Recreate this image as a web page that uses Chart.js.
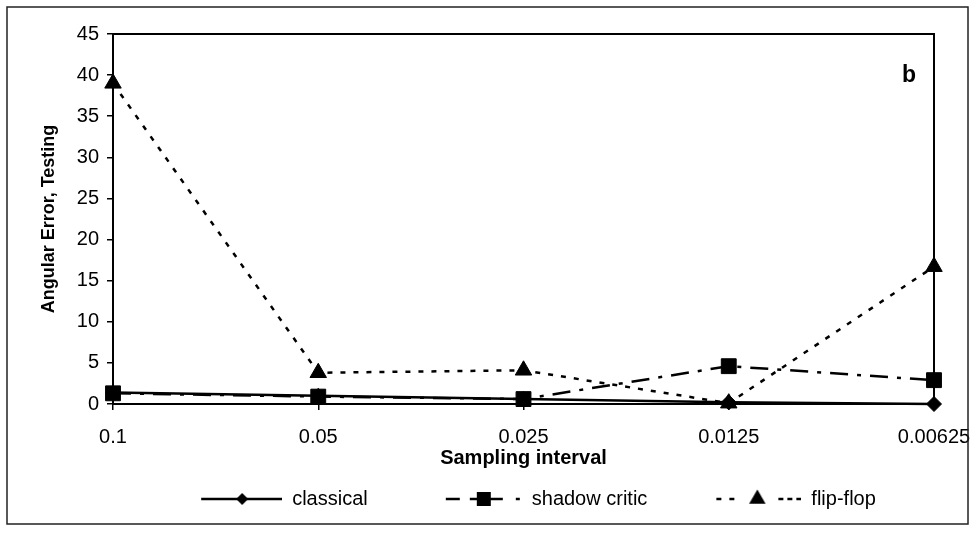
<!DOCTYPE html>
<html>
<head>
<meta charset="utf-8">
<script src="https://cdn.jsdelivr.net/npm/chart.js@4/dist/chart.umd.min.js"></script>
<style>
  html, body { margin: 0; padding: 0; background: #fff; }
  canvas { display: block; }
</style>
</head>
<body>
<canvas id="chart" width="976" height="533"></canvas>
<script>
// values
const intervals = ['0.1', '0.05', '0.025', '0.0125', '0.00625']
const classical = [1.4, 1.0, 0.6, 0.2, 0.0]
const shadowCritic = [1.3, 0.9, 0.6, 4.6, 2.9]
const flipFlop = [39.0, 3.8, 4.1, 0.1, 16.7]
const yTicks = { min: 0, max: 45, step: 5 }

Chart.defaults.font.family = '"Liberation Sans", Arial, sans-serif'
Chart.defaults.color = '#000'

const SYM_W = 144

// legend swatches: line + marker, right aligned in the box
function makeSymbol(kind) {
  const c = document.createElement('canvas')
  c.width = SYM_W
  c.height = 20
  const g = c.getContext('2d')
  g.strokeStyle = '#000'
  g.fillStyle = '#000'
  g.lineWidth = 2.5
  const y = 10
  const seg = (a, b) => { g.beginPath(); g.moveTo(a, y); g.lineTo(b, y); g.stroke() }
  if (kind === 'classical') {
    const s = SYM_W - 81
    seg(s, SYM_W)
    const cx = s + 41
    g.beginPath()
    g.moveTo(cx, y - 6); g.lineTo(cx + 6, y); g.lineTo(cx, y + 6); g.lineTo(cx - 6, y)
    g.closePath(); g.fill()
  } else if (kind === 'shadow') {
    const s = SYM_W - 2 - 74
    seg(s, s + 14)
    seg(s + 24, s + 57)
    g.fillRect(s + 31, y - 7, 14, 14)
    seg(s + 70, s + 74)
  } else {
    const s = SYM_W - 85
    ;[[0, 5], [13, 18], [62, 67], [71, 76], [80, 85]].forEach(d => seg(s + d[0], s + d[1]))
    const cx = s + 41, r = 9.5
    g.beginPath()
    g.moveTo(cx, y - r)
    g.lineTo(cx + r * 0.866, y + r * 0.5)
    g.lineTo(cx - r * 0.866, y + r * 0.5)
    g.closePath(); g.fill()
  }
  return c
}
const symbols = [makeSymbol('classical'), makeSymbol('shadow'), makeSymbol('flip')]

// outer frame, plot box and panel letter
const framePlugin = {
  id: 'frame',
  beforeDatasetsDraw(chart) {
    const { ctx, chartArea: a } = chart
    ctx.save()
    ctx.strokeStyle = '#000'
    ctx.lineWidth = 2
    ctx.strokeRect(a.left, a.top, a.right - a.left, a.bottom - a.top)
    ctx.lineWidth = 1.5
    ctx.strokeStyle = '#222'
    ctx.strokeRect(7, 7, 961, 517)
    ctx.fillStyle = '#000'
    ctx.font = 'bold 23px "Liberation Sans", Arial, sans-serif'
    ctx.textBaseline = 'alphabetic'
    ctx.fillText('b', 902, 82)
    ctx.restore()
  }
}

// nudge the legend row to where the reference has it
const legendShift = {
  id: 'legendShift',
  afterLayout(chart) {
    chart.legend.left += 30
    chart.legend.right += 30
  }
}

const common = {
  borderColor: '#000',
  backgroundColor: '#000',
  pointBackgroundColor: '#000',
  pointBorderColor: '#000',
  pointBorderWidth: 1,
  borderWidth: 2.5,
  tension: 0,
  fill: false,
  clip: false
}

new Chart(document.getElementById('chart'), {
  type: 'line',
  data: {
    labels: intervals,
    datasets: [
      { ...common, label: 'classical', data: classical, pointStyle: 'rectRot', pointRadius: 7.5 },
      { ...common, label: 'shadow critic', data: shadowCritic, pointStyle: 'rect', pointRadius: 10.5, borderDash: [18, 9, 4, 9] },
      { ...common, label: 'flip-flop', data: flipFlop, pointStyle: 'triangle', pointRadius: 9.5, borderDash: [5, 8] }
    ]
  },
  options: {
    responsive: false,
    animation: false,
    layout: { padding: { top: 34, left: 20, right: 42, bottom: 14 } },
    plugins: {
      tooltip: { enabled: false },
      legend: {
        position: 'bottom',
        labels: {
          usePointStyle: true,
          pointStyleWidth: SYM_W,
          padding: 10,
          color: '#000',
          font: { size: 20 },
          generateLabels(chart) {
            const items = Chart.defaults.plugins.legend.labels.generateLabels(chart)
            return items.map((it, i) => ({ ...it, pointStyle: symbols[i] }))
          }
        }
      }
    },
    scales: {
      x: {
        offset: false,
        grid: { drawOnChartArea: false, drawTicks: true, tickLength: 6, color: '#000', lineWidth: 1.5 },
        border: { display: true, color: '#000', width: 2 },
        ticks: { color: '#000', font: { size: 20 }, padding: 15, maxRotation: 0, autoSkip: false },
        title: { display: true, text: 'Sampling interval', color: '#000', font: { size: 20, weight: 'bold' }, padding: { top: 0, bottom: 9 } },
        afterFit(scale) {
          scale.height = 75
          scale.paddingRight = 0
        }
      },
      y: {
        min: yTicks.min,
        max: yTicks.max,
        grid: { drawOnChartArea: false, drawTicks: true, tickLength: 6, color: '#000', lineWidth: 1.5 },
        border: { display: true, color: '#000', width: 2 },
        ticks: { stepSize: yTicks.step, color: '#000', font: { size: 20 }, padding: 8 },
        title: { display: true, text: 'Angular Error, Testing', color: '#000', font: { size: 18, weight: 'bold' }, padding: { top: 18, bottom: 0 } },
        afterFit(scale) { scale.width = 93 }
      }
    }
  },
  plugins: [framePlugin, legendShift]
})
</script>
</body>
</html>
